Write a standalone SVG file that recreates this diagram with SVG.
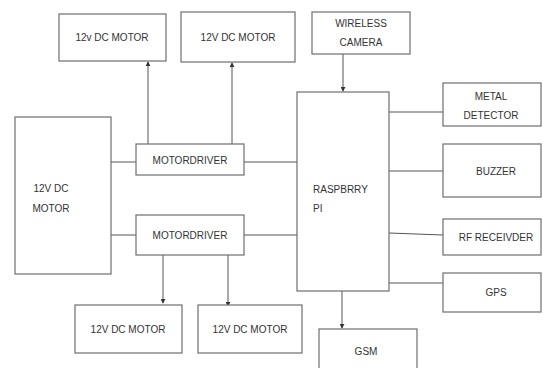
<svg xmlns="http://www.w3.org/2000/svg" width="543" height="368" viewBox="0 0 543 368">
<style>
rect{fill:#fff;stroke:#6e6e6e;stroke-width:1.2}
text{font-family:"Liberation Sans",Arial,sans-serif;font-size:10px;fill:#333;text-anchor:middle}
.c line{stroke:#555;stroke-width:1}
</style>
<defs>
<marker id="a" viewBox="0 0 6 6" refX="5" refY="3" markerWidth="5" markerHeight="5" orient="auto"><path d="M0,0L6,3L0,6z" fill="#333"/></marker>
</defs>
<rect x="0" y="0" width="543" height="368" style="stroke:none"/>
<g class="c">
<line x1="148" y1="144" x2="148" y2="62" marker-end="url(#a)"/>
<line x1="232" y1="144" x2="232" y2="63" marker-end="url(#a)"/>
<line x1="343" y1="54" x2="343" y2="91" marker-end="url(#a)"/>
<line x1="111" y1="162" x2="136" y2="162"/>
<line x1="244" y1="162" x2="297" y2="162"/>
<line x1="111" y1="235" x2="136" y2="235"/>
<line x1="244" y1="235" x2="297" y2="235"/>
<line x1="163" y1="255" x2="163" y2="303" marker-end="url(#a)"/>
<line x1="228" y1="255" x2="228" y2="306" marker-end="url(#a)"/>
<line x1="389" y1="112" x2="443" y2="112"/>
<line x1="389" y1="171" x2="443" y2="171"/>
<line x1="389" y1="233" x2="443" y2="235"/>
<line x1="389" y1="283" x2="443" y2="283"/>
<line x1="342" y1="291" x2="342" y2="328" marker-end="url(#a)"/>
</g>
<g id="motor_top1"><rect x="59" y="14" width="107" height="47"/><text x="112" y="41">12v DC MOTOR</text></g>
<g id="motor_top2"><rect x="181" y="12" width="114" height="50"/><text x="238" y="41">12V DC MOTOR</text></g>
<g id="camera"><rect x="312" y="12" width="98" height="42"/><text x="361" y="27">WIRELESS</text><text x="361" y="46">CAMERA</text></g>
<g id="motor_big"><rect x="15" y="117" width="96" height="157"/><text x="51" y="192">12V DC</text><text x="51" y="212">MOTOR</text></g>
<g id="driver1"><rect x="136" y="144" width="108" height="31"/><text x="190" y="164">MOTORDRIVER</text></g>
<g id="driver2"><rect x="136" y="215" width="108" height="40"/><text x="190" y="239">MOTORDRIVER</text></g>
<g id="rpi"><rect x="297" y="92" width="92" height="199"/><text x="313" y="193" style="text-anchor:start">RASPBRRY</text><text x="313" y="212" style="text-anchor:start">PI</text></g>
<g id="metal"><rect x="443" y="83" width="98" height="43"/><text x="491" y="100">METAL</text><text x="491" y="119">DETECTOR</text></g>
<g id="buzzer"><rect x="443" y="144" width="98" height="53"/><text x="496" y="175">BUZZER</text></g>
<g id="rf"><rect x="443" y="219" width="98" height="36"/><text x="496" y="241">RF RECEIVDER</text></g>
<g id="gps"><rect x="443" y="273" width="98" height="39"/><text x="496" y="296">GPS</text></g>
<g id="gsm"><rect x="319" y="329" width="98" height="45"/><text x="366" y="355">GSM</text></g>
<g id="motor_bot1"><rect x="75" y="305" width="107" height="48"/><text x="128" y="333">12V DC MOTOR</text></g>
<g id="motor_bot2"><rect x="198" y="305" width="104" height="48"/><text x="250" y="333">12V DC MOTOR</text></g>
</svg>
